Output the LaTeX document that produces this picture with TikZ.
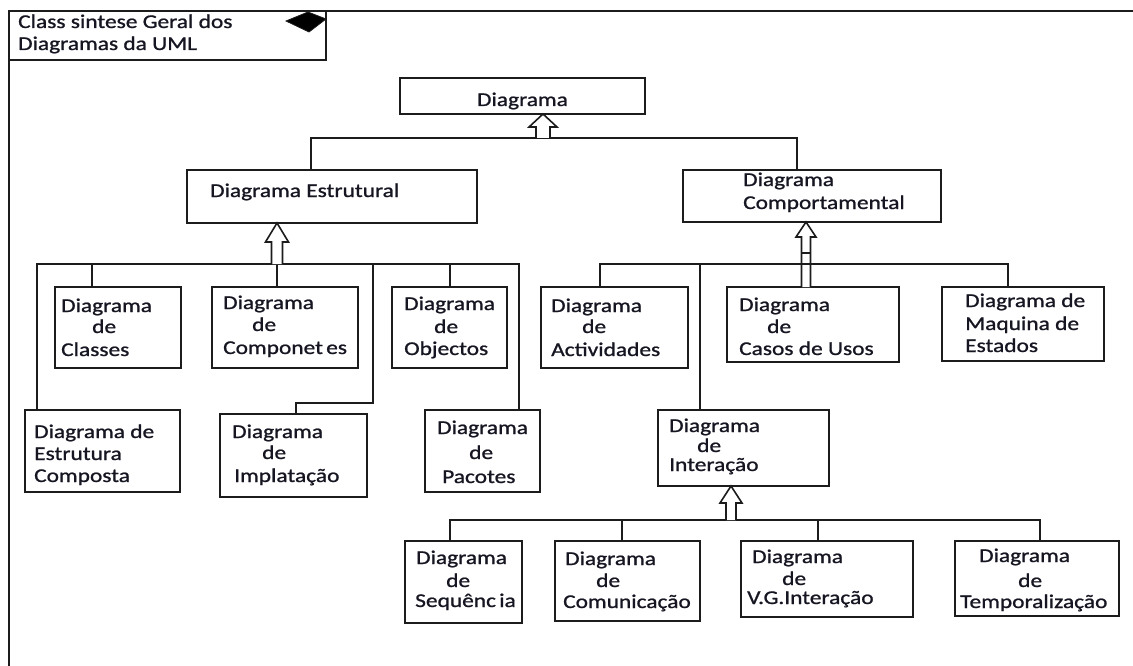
\documentclass[tikz,border=0pt]{standalone}
\usepackage{fontspec}
\setmainfont{Carlito}[FakeStretch=1.2, FakeBold=1.0]
\usetikzlibrary{calc}
\definecolor{ink}{RGB}{22,22,34}
\definecolor{edge}{RGB}{28,28,28}

% box: name, left, top, width, height
\newcommand\umlbox[5]{\node[box, minimum width=#4pt, minimum height=#5pt] (#1) at (#2,#3) {};}
% one line of text: name, left, baseline, text
\newcommand\tline[4]{\node[lbl] (#1) at (#2,#3) {#4};}
% hollow generalisation arrow: tip, shaft base, shaft half width, head half width, head length
\newcommand\genarrow[5]{%
  \draw[wire, fill=white, line join=miter]
    ($(#2)+(-#3,0)$) -- ($(#1)+(-#3,#5)$) -- ($(#1)+(-#4,#5)$) -- (#1)
    -- ($(#1)+(#4,#5)$) -- ($(#1)+(#3,#5)$) -- ($(#2)+(#3,0)$);}

\begin{document}
\begin{tikzpicture}[x=1pt, y=-1pt,
  box/.style={draw=edge, line width=1.6pt, fill=white, inner sep=0pt, outer sep=0pt, anchor=north west},
  lbl/.style={text=ink, inner sep=0pt, anchor=base west, font=\fontsize{19.5}{22}\selectfont},
  wire/.style={draw=edge, line width=1.6pt},
]
\useasboundingbox (0,0) rectangle (1133,666);

% outer frame (open on the right and bottom)
\coordinate (fTL) at (9,11);
\coordinate (fTR) at (1133,11);
\coordinate (fBL) at (9,666);
\draw[wire, line width=1.9pt] (fTR) -- (fTL) -- (fBL);

% frame title
\umlbox{title}{9}{11}{317}{49}
\draw[draw=edge, fill=black, line width=0.8pt] (286,21) -- (308,12) -- (326,19) -- (309,32) -- cycle;
\tline{title1}{18}{28}{Class sintese Geral dos}
\tline{title2}{18}{50}{Diagramas da UML}

% boxes
\umlbox{diagrama}{400}{78}{245}{36}
\umlbox{estrutural}{187}{170}{290}{53}
\umlbox{comport}{683}{170}{258}{52}
\umlbox{classes}{55}{287}{126}{81}
\umlbox{componetes}{212}{287}{146}{81}
\umlbox{objectos}{392}{287}{115}{81}
\umlbox{ecomp}{25}{410}{155}{82}
\umlbox{implat}{220}{414}{147}{83}
\umlbox{pacotes}{425}{410}{115}{82}
\umlbox{activ}{541}{287}{147}{81}
\umlbox{casos}{727}{287}{172}{75}
\umlbox{maquina}{942}{287}{162}{74}
\umlbox{interacao}{658}{410}{171}{76}
\umlbox{sequencia}{405}{541}{117}{82}
\umlbox{comunic}{555}{541}{145}{80}
\umlbox{vg}{741}{541}{172}{76}
\umlbox{temporal}{955}{541}{164}{75}

% texts
\node[lbl, anchor=base] (tdiag) at (diagrama.center |- 0,106) {Diagrama};
\tline{testr}{210}{197}{Diagrama Estrutural}
\tline{tcomp1}{743}{186}{Diagrama}
\tline{tcomp2}{743}{209}{Comportamental}

\tline{tcla1}{61}{312}{Diagrama}
\tline{tcla2}{92}{333}{de}
\tline{tcla3}{61}{356}{Classes}

\tline{tcpn1}{223}{309}{Diagrama}
\tline{tcpn2}{252}{331}{de}
\tline{tcpn3}{223}{354}{Componet\,es}

\tline{tobj1}{404}{310}{Diagrama}
\tline{tobj2}{434}{333}{de}
\tline{tobj3}{404}{355}{Objectos}

\tline{tec1}{34}{438}{Diagrama de}
\tline{tec2}{34}{460}{Estrutura}
\tline{tec3}{34}{482}{Composta}

\tline{timp1}{232}{438}{Diagrama}
\tline{timp2}{262}{459}{de}
\tline{timp3}{234}{482}{Implatação}

\tline{tpac1}{437}{434}{Diagrama}
\tline{tpac2}{469}{459}{de}
\tline{tpac3}{442}{483}{Pacotes}

\tline{tact1}{551}{312}{Diagrama}
\tline{tact2}{582}{333}{de}
\tline{tact3}{551}{356}{Actividades}

\tline{tcas1}{739}{311}{Diagrama}
\tline{tcas2}{767}{333}{de}
\tline{tcas3}{739}{355}{Casos de Usos}

\tline{tmaq1}{965}{307}{Diagrama de}
\tline{tmaq2}{965}{330}{Maquina de}
\tline{tmaq3}{965}{352}{Estados}

\tline{tint1}{669}{432}{Diagrama}
\tline{tint2}{697}{452}{de}
\tline{tint3}{669}{471}{Interação}

\tline{tseq1}{416}{564}{Diagrama}
\tline{tseq2}{446}{587}{de}
\tline{tseq3}{415}{607}{Sequênc\,ia}

\tline{tcom1}{565}{565}{Diagrama}
\tline{tcom2}{596}{587}{de}
\tline{tcom3}{563}{608}{Comunicação}

\tline{tvg1}{752}{563}{Diagrama}
\tline{tvg2}{782}{585}{de}
\tline{tvg3}{747}{604}{V.G.Interação}

\tline{ttmp1}{979}{562}{Diagrama}
\tline{ttmp2}{1018}{587}{de}
\tline{ttmp3}{960}{608}{Temporalização}

% Diagrama -> Estrutural / Comportamental
\coordinate (jTopL) at (311,138);
\coordinate (jTopR) at (797,138);
\coordinate (jTopA) at (543,138);
\draw[wire] (estrutural.north -| jTopL) -- (jTopL) -- (jTopR) -- (comport.north -| jTopR);
\path (diagrama.south -| jTopA) coordinate (tipD);
\genarrow{tipD}{jTopA}{7}{14}{13}

% structural family
\coordinate (sL) at (37,264);
\coordinate (sR) at (519,264);
\coordinate (sCla) at (92,264);
\coordinate (sCpn) at (277,264);
\coordinate (sImp) at (373,264);
\coordinate (sImpK) at (296,403);
\coordinate (sObj) at (450,264);
\draw[wire] (ecomp.north -| sL) -- (sL) -- (sR) -- (pacotes.north -| sR);
\draw[wire] (sCla) -- (classes.north -| sCla);
\draw[wire] (sCpn) -- (componetes.north -| sCpn);
\draw[wire] (sImp) |- (sImpK) -- (implat.north -| sImpK);
\draw[wire] (sObj) -- (objectos.north -| sObj);
\path (estrutural.south -| sCpn) coordinate (tipE);
\genarrow{tipE}{sCpn}{5.5}{11.5}{19}

% behavioural family
\coordinate (bL) at (600,264);
\coordinate (bR) at (1008,264);
\coordinate (bInt) at (700,264);
\coordinate (bAx) at (806,0);
\path (casos.north -| bAx) coordinate (bA);
\path (comport.south -| bAx) coordinate (tipC);
\genarrow{tipC}{bA}{4.5}{10}{15}
\draw[wire] ($(tipC)+(-4.5,31)$) -- ($(tipC)+(4.5,31)$);
\draw[wire] (activ.north -| bL) -- (bL) -- (bR) -- (maquina.north -| bR);
\draw[wire] (bInt) -- (interacao.north -| bInt);

% interaction family
\coordinate (iL) at (450,520);
\coordinate (iR) at (1040,520);
\coordinate (iCom) at (622,520);
\coordinate (iVg) at (818,520);
\coordinate (iA) at (731,520);
\draw[wire] (sequencia.north -| iL) -- (iL) -- (iR) -- (temporal.north -| iR);
\draw[wire] (iCom) -- (comunic.north -| iCom);
\draw[wire] (iVg) -- (vg.north -| iVg);
\path (interacao.south -| iA) coordinate (tipI);
\genarrow{tipI}{iA}{5}{11}{17}
\end{tikzpicture}
\end{document}
